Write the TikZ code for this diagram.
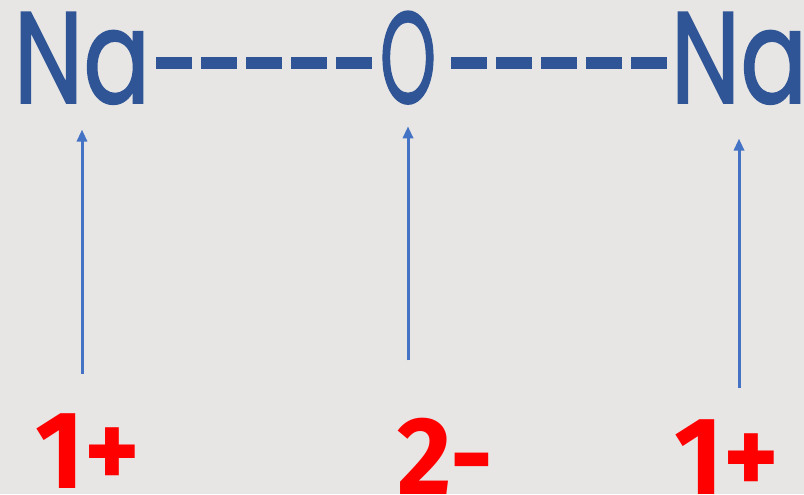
\documentclass[tikz,border=0pt]{standalone}
\usepackage{fontspec}
\setmainfont{Fira Sans}
\newfontfamily\atomfont{Poppins}[FakeBold=1.5]
\usetikzlibrary{arrows.meta}
\definecolor{atomblue}{HTML}{2F5597}
\definecolor{arrowblue}{HTML}{4472C4}
\definecolor{chargered}{HTML}{FF0000}
\definecolor{paper}{HTML}{E7E6E4}
\tikzset{
  atom/.style={inner sep=0pt, anchor=base, text=atomblue, font=\atomfont\fontsize{74}{74}\selectfont},
  charge/.style={inner sep=0pt, anchor=base, text=chargered, font=\fontsize{63}{63}\selectfont\bfseries},
  bond/.style={atomblue, line width=0.24cm, dash pattern=on 0.72cm off 0.18cm},
  arr/.style={-{Triangle[length=2.4mm, width=2mm]}, arrowblue, line width=0.06cm},
}

\begin{document}
\begin{tikzpicture}[x=0.02cm, y=-0.02cm]

\fill[paper] (0,0) rectangle (804,494);
\useasboundingbox (0,0) rectangle (804,494);

\node[atom] (na1) at (82,103) {\scalebox{0.76}[1]{Na}};
\node[atom] (o) at (408,103) {\scalebox{0.55}[1]{O}};
\node[atom] (na2) at (739,103) {\scalebox{0.76}[1]{Na}};

\node[charge] (q1) at (88,488) {\scalebox{0.95}[1]{1+}};
\node[charge] (q2) at (445,494) {\scalebox{0.95}[1]{2-}};
\node[charge] (q3) at (727,494) {\scalebox{0.95}[1]{1+}};

\draw[bond, shorten <=0.12cm] (na1.east |- 0,63) -- (o.west |- 0,63);
\draw[bond, shorten <=0.3cm] (o.east |- 0,63) -- (na2.west |- 0,63);

\draw[arr, shorten <=0.78cm, shorten >=0.5cm] (na1.south |- q1.north) -- (na1.south);
\draw[arr, shorten <=1.14cm, shorten >=0.44cm] (o.south |- q2.north) -- (o.south);
\draw[arr, shorten <=0.62cm, shorten >=0.68cm] (na2.south |- q3.north) -- (na2.south);

\end{tikzpicture}
\end{document}
